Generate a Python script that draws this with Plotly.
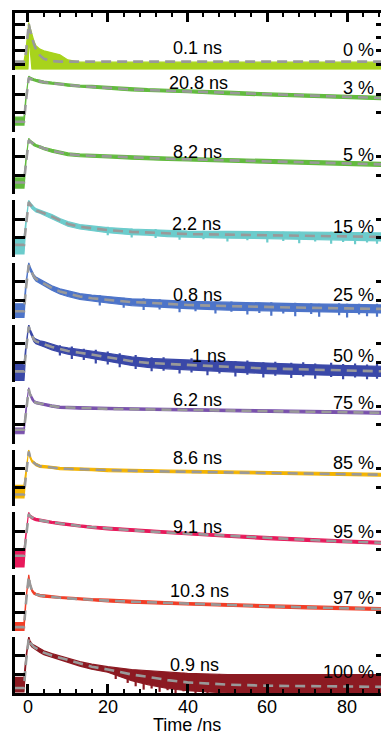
import plotly.graph_objects as go

# Shared time grid (ns) for every decay panel
t_ns = [-3.3, -1.0, -0.5, 0.0, 0.2, 0.5, 1, 1.5, 2, 3, 4, 6, 8, 10, 13, 16,
        20, 26, 30, 35, 40, 50, 60, 70, 80, 88.6]

time_ticks = [0, 20, 40, 60, 80]
time_tick_labels = ["0", "20", "40", "60", "80"]

fractions = ["0 %", "3 %", "5 %", "15 %", "25 %", "50 %", "75 %", "85 %", "95 %", "97 %", "100 %"]
lifetimes = ["0.1 ns", "20.8 ns", "8.2 ns", "2.2 ns", "0.8 ns", "1 ns", "6.2 ns", "8.6 ns",
             "9.1 ns", "10.3 ns", "0.9 ns"]
colors = ["#a8d31c", "#62bb3e", "#62bb3e", "#6ccccc", "#4d74c9", "#3a48a8", "#7a52ad",
          "#f4b400", "#e8195b", "#f23e27", "#8c1a22"]

# Normalised intensity: fitted curve, measured trace (centre) and noise half-width
fit_p00 = [0.14, 0.14, 0.30, 0.70, 0.81, 0.70, 0.56, 0.45, 0.36, 0.25, 0.19, 0.15, 0.14, 0.14, 0.14, 0.14,
           0.14, 0.14, 0.14, 0.14, 0.14, 0.14, 0.14, 0.14, 0.14, 0.14]
data_p00 = [0.07, 0.07, 0.175, 0.39, 0.615, 0.575, 0.31, 0.25, 0.21, 0.18, 0.165, 0.15, 0.13, 0.085, 0.065, 0.065,
            0.065, 0.065, 0.065, 0.065, 0.065, 0.065, 0.065, 0.065, 0.065, 0.065]
noise_p00 = [0.07, 0.07, 0.175, 0.39, 0.215, 0.175, 0.31, 0.25, 0.21, 0.18, 0.165, 0.15, 0.13, 0.085, 0.065, 0.065,
             0.065, 0.065, 0.065, 0.065, 0.065, 0.065, 0.065, 0.065, 0.065, 0.065]

fit_p03 = [0.18, 0.18, 0.55, 0.90, 0.96, 0.94, 0.93, 0.92, 0.91, 0.89, 0.88, 0.86, 0.85, 0.83, 0.81, 0.80,
           0.78, 0.75, 0.74, 0.73, 0.72, 0.69, 0.66, 0.64, 0.62, 0.60]
data_p03 = [0.19, 0.19, 0.60, 0.92, 0.97, 0.95, 0.93, 0.92, 0.91, 0.89, 0.88, 0.86, 0.85, 0.83, 0.81, 0.80,
            0.78, 0.75, 0.74, 0.73, 0.72, 0.69, 0.66, 0.64, 0.62, 0.60]
noise_p03 = [0.07, 0.07, 0.03, 0.02, 0.02, 0.02, 0.02, 0.02, 0.02, 0.02, 0.02, 0.02, 0.02, 0.02, 0.02, 0.025,
             0.025, 0.025, 0.025, 0.025, 0.025, 0.03, 0.03, 0.03, 0.03, 0.03]

fit_p05 = [0.21, 0.21, 0.55, 0.90, 0.96, 0.94, 0.91, 0.88, 0.86, 0.84, 0.81, 0.77, 0.74, 0.71, 0.69, 0.68,
           0.67, 0.65, 0.64, 0.63, 0.62, 0.60, 0.58, 0.56, 0.545, 0.53]
data_p05 = [0.20, 0.20, 0.60, 0.92, 0.97, 0.94, 0.91, 0.88, 0.86, 0.84, 0.81, 0.77, 0.74, 0.71, 0.69, 0.68,
            0.67, 0.65, 0.64, 0.63, 0.62, 0.60, 0.58, 0.56, 0.545, 0.53]
noise_p05 = [0.09, 0.09, 0.03, 0.02, 0.02, 0.02, 0.02, 0.02, 0.02, 0.02, 0.02, 0.025, 0.025, 0.025, 0.025, 0.025,
             0.025, 0.03, 0.03, 0.03, 0.03, 0.03, 0.035, 0.035, 0.035, 0.035]

fit_p15 = [0.21, 0.21, 0.55, 0.90, 0.97, 0.93, 0.88, 0.85, 0.82, 0.80, 0.77, 0.71, 0.64, 0.58, 0.53, 0.50,
           0.47, 0.44, 0.43, 0.41, 0.40, 0.39, 0.38, 0.37, 0.36, 0.35]
data_p15 = [0.19, 0.19, 0.60, 0.92, 0.97, 0.93, 0.88, 0.85, 0.82, 0.80, 0.77, 0.71, 0.64, 0.58, 0.53, 0.50,
            0.47, 0.44, 0.43, 0.41, 0.40, 0.39, 0.38, 0.37, 0.36, 0.35]
noise_p15 = [0.14, 0.14, 0.04, 0.03, 0.03, 0.03, 0.03, 0.03, 0.03, 0.03, 0.03, 0.035, 0.035, 0.04, 0.04, 0.045,
             0.045, 0.05, 0.05, 0.055, 0.055, 0.06, 0.06, 0.065, 0.065, 0.07]

fit_p25 = [0.14, 0.14, 0.55, 0.90, 0.96, 0.90, 0.82, 0.75, 0.71, 0.67, 0.63, 0.55, 0.49, 0.45, 0.40, 0.37,
           0.34, 0.30, 0.29, 0.27, 0.25, 0.23, 0.21, 0.20, 0.19, 0.18]
data_p25 = [0.15, 0.15, 0.60, 0.92, 0.97, 0.90, 0.82, 0.75, 0.71, 0.67, 0.63, 0.55, 0.49, 0.45, 0.40, 0.37,
            0.34, 0.30, 0.29, 0.27, 0.25, 0.23, 0.21, 0.20, 0.19, 0.18]
noise_p25 = [0.12, 0.12, 0.04, 0.03, 0.03, 0.03, 0.03, 0.03, 0.035, 0.035, 0.04, 0.04, 0.045, 0.05, 0.05, 0.055,
             0.055, 0.06, 0.06, 0.065, 0.065, 0.07, 0.07, 0.07, 0.07, 0.07]

fit_p50 = [0.18, 0.18, 0.55, 0.90, 0.97, 0.90, 0.82, 0.74, 0.71, 0.68, 0.66, 0.61, 0.57, 0.54, 0.51, 0.47,
           0.43, 0.36, 0.33, 0.31, 0.29, 0.26, 0.23, 0.21, 0.19, 0.18]
data_p50 = [0.16, 0.16, 0.60, 0.92, 0.98, 0.90, 0.82, 0.74, 0.71, 0.68, 0.66, 0.61, 0.57, 0.54, 0.51, 0.47,
            0.43, 0.36, 0.33, 0.31, 0.29, 0.26, 0.23, 0.21, 0.19, 0.18]
noise_p50 = [0.14, 0.14, 0.04, 0.03, 0.03, 0.03, 0.035, 0.035, 0.04, 0.04, 0.045, 0.05, 0.05, 0.055, 0.06, 0.065,
             0.07, 0.075, 0.08, 0.085, 0.09, 0.09, 0.09, 0.09, 0.09, 0.09]

fit_p75 = [0.25, 0.25, 0.55, 0.90, 0.97, 0.88, 0.80, 0.75, 0.73, 0.71, 0.70, 0.67, 0.65, 0.645, 0.635, 0.63,
           0.62, 0.615, 0.61, 0.605, 0.60, 0.59, 0.58, 0.57, 0.56, 0.55]
data_p75 = [0.23, 0.23, 0.60, 0.92, 0.98, 0.88, 0.80, 0.75, 0.73, 0.71, 0.70, 0.67, 0.65, 0.645, 0.635, 0.63,
            0.62, 0.615, 0.61, 0.605, 0.60, 0.59, 0.58, 0.57, 0.56, 0.55]
noise_p75 = [0.05, 0.05, 0.03, 0.02, 0.02, 0.02, 0.02, 0.02, 0.02, 0.02, 0.02, 0.02, 0.02, 0.02, 0.02, 0.02,
             0.025, 0.025, 0.025, 0.025, 0.025, 0.025, 0.025, 0.025, 0.025, 0.025]

fit_p85 = [0.21, 0.21, 0.55, 0.90, 0.97, 0.88, 0.80, 0.77, 0.74, 0.71, 0.70, 0.69, 0.67, 0.665, 0.655, 0.65,
           0.64, 0.63, 0.62, 0.615, 0.61, 0.60, 0.59, 0.58, 0.57, 0.56]
data_p85 = [0.26, 0.26, 0.60, 0.92, 0.98, 0.88, 0.80, 0.77, 0.74, 0.71, 0.70, 0.69, 0.67, 0.665, 0.655, 0.65,
            0.64, 0.63, 0.62, 0.615, 0.61, 0.60, 0.59, 0.58, 0.57, 0.56]
noise_p85 = [0.11, 0.11, 0.03, 0.02, 0.02, 0.02, 0.02, 0.02, 0.02, 0.02, 0.02, 0.02, 0.02, 0.02, 0.02, 0.02,
             0.025, 0.025, 0.025, 0.025, 0.025, 0.025, 0.025, 0.025, 0.025, 0.025]

fit_p95 = [0.23, 0.23, 0.55, 0.90, 0.97, 0.93, 0.90, 0.885, 0.87, 0.855, 0.84, 0.82, 0.80, 0.78, 0.755, 0.735,
           0.71, 0.68, 0.66, 0.64, 0.62, 0.58, 0.54, 0.51, 0.48, 0.46]
data_p95 = [0.18, 0.18, 0.60, 0.92, 0.98, 0.93, 0.90, 0.885, 0.87, 0.855, 0.84, 0.82, 0.80, 0.78, 0.755, 0.735,
            0.71, 0.68, 0.66, 0.64, 0.62, 0.58, 0.54, 0.51, 0.48, 0.46]
noise_p95 = [0.15, 0.15, 0.03, 0.02, 0.02, 0.02, 0.02, 0.02, 0.02, 0.02, 0.02, 0.02, 0.02, 0.02, 0.02, 0.02,
             0.025, 0.025, 0.025, 0.025, 0.025, 0.025, 0.025, 0.025, 0.025, 0.025]

fit_p97 = [0.07, 0.07, 0.50, 0.88, 0.97, 0.83, 0.72, 0.67, 0.65, 0.63, 0.62, 0.605, 0.59, 0.58, 0.565, 0.555,
           0.54, 0.52, 0.51, 0.495, 0.48, 0.46, 0.44, 0.42, 0.40, 0.39]
data_p97 = [0.08, 0.08, 0.55, 0.90, 0.98, 0.83, 0.72, 0.67, 0.65, 0.63, 0.62, 0.605, 0.59, 0.58, 0.565, 0.555,
            0.54, 0.52, 0.51, 0.495, 0.48, 0.46, 0.44, 0.42, 0.40, 0.39]
noise_p97 = [0.07, 0.07, 0.03, 0.02, 0.02, 0.02, 0.02, 0.02, 0.02, 0.02, 0.02, 0.02, 0.02, 0.02, 0.02, 0.02,
             0.025, 0.025, 0.025, 0.025, 0.025, 0.025, 0.025, 0.025, 0.025, 0.025]

fit_p100 = [0.09, 0.09, 0.55, 0.90, 0.98, 0.90, 0.85, 0.82, 0.80, 0.76, 0.72, 0.67, 0.63, 0.59, 0.52, 0.47,
            0.42, 0.33, 0.29, 0.23, 0.19, 0.15, 0.13, 0.12, 0.11, 0.11]
data_p100 = [0.15, 0.15, 0.60, 0.92, 0.98, 0.90, 0.85, 0.82, 0.80, 0.76, 0.72, 0.67, 0.63, 0.59, 0.52, 0.47,
             0.42, 0.32, 0.275, 0.225, 0.195, 0.165, 0.165, 0.165, 0.165, 0.165]
noise_p100 = [0.13, 0.13, 0.05, 0.03, 0.03, 0.03, 0.03, 0.035, 0.035, 0.035, 0.035, 0.035, 0.035, 0.04, 0.04, 0.045,
              0.05, 0.10, 0.125, 0.145, 0.155, 0.165, 0.165, 0.165, 0.165, 0.165]

# Isolated noise spikes in the photon-starved tails: time, lowest and highest count
spike_t_p15 = [20, 26, 32, 38, 44, 50, 55, 60, 64, 68, 72, 76, 79, 82, 85, 87.5]
spike_lo_p15 = [0.38, 0.34, 0.33, 0.30, 0.31, 0.27, 0.29, 0.25, 0.28, 0.24, 0.27, 0.23, 0.26, 0.22, 0.25, 0.23]
spike_hi_p15 = [0.53, 0.50, 0.49, 0.47, 0.46, 0.45, 0.45, 0.45, 0.44, 0.44, 0.43, 0.44, 0.42, 0.43, 0.42, 0.42]

spike_t_p25 = [18, 24, 29, 33, 38, 42, 47, 51, 55, 58, 61, 64, 67, 71, 73, 78, 80, 83, 85, 87.5]
spike_lo_p25 = [0.24, 0.20, 0.16, 0.17, 0.12, 0.14, 0.10, 0.13, 0.08, 0.11, 0.06, 0.10, 0.05, 0.09, 0.04, 0.07,
                0.03, 0.08, 0.05, 0.04]
spike_hi_p25 = [0.42, 0.38, 0.37, 0.35, 0.34, 0.33, 0.31, 0.31, 0.30, 0.29, 0.30, 0.28, 0.29, 0.28, 0.27, 0.28,
                0.27, 0.27, 0.26, 0.27]

spike_t_p50 = [8, 11, 14, 17, 20, 23, 27, 31, 34, 38, 41, 45, 48, 52, 55, 59, 62, 66, 69, 72, 76, 79, 82, 85, 87.5]
spike_lo_p50 = [0.46, 0.40, 0.38, 0.32, 0.30, 0.25, 0.22, 0.18, 0.19, 0.14, 0.16, 0.11, 0.14, 0.09, 0.12, 0.07,
                0.10, 0.06, 0.09, 0.05, 0.08, 0.04, 0.07, 0.04, 0.05]
spike_hi_p50 = [0.64, 0.62, 0.58, 0.56, 0.53, 0.50, 0.47, 0.43, 0.43, 0.40, 0.41, 0.37, 0.39, 0.36, 0.37, 0.34,
                0.35, 0.33, 0.34, 0.32, 0.33, 0.31, 0.32, 0.30, 0.31]

spike_t_p100 = [22, 25, 27, 29, 31, 33, 35, 37, 39, 42, 45, 48]
spike_lo_p100 = [0.25, 0.18, 0.12, 0.06, 0.08, 0.02, 0.05, 0.0, 0.03, 0.0, 0.0, 0.0]
spike_hi_p100 = [0.42, 0.42, 0.41, 0.40, 0.39, 0.38, 0.37, 0.36, 0.36, 0.35, 0.34, 0.34]

fits = [fit_p00, fit_p03, fit_p05, fit_p15, fit_p25, fit_p50, fit_p75, fit_p85, fit_p95, fit_p97, fit_p100]
traces = [data_p00, data_p03, data_p05, data_p15, data_p25, data_p50, data_p75, data_p85, data_p95, data_p97, data_p100]
noises = [noise_p00, noise_p03, noise_p05, noise_p15, noise_p25, noise_p50, noise_p75, noise_p85, noise_p95,
          noise_p97, noise_p100]
spikes = {3: (spike_t_p15, spike_lo_p15, spike_hi_p15),
          4: (spike_t_p25, spike_lo_p25, spike_hi_p25),
          5: (spike_t_p50, spike_lo_p50, spike_hi_p50),
          10: (spike_t_p100, spike_lo_p100, spike_hi_p100)}

# ---- layout geometry (pixels) ----
W, H = 381, 733
LEFT = 15
TOP, BOT = 13, 693
PITCH, PANEL_H = 62.4, 56.5
X_RANGE = [-3.25, 88.5]
FONT = "Arial, Liberation Sans, sans-serif"

# label placement: ns label x (data units) and vertical fraction within each panel
ns_label_x = [42.6, 42.8, 42.6, 42.3, 42.6, 45.5, 42.6, 42.6, 42.6, 43.0, 41.8]
ns_label_y = [0.38, 0.865, 0.75, 0.58, 0.43, 0.45, 0.78, 0.855, 0.74, 0.71, 0.50]
pct_label_y = [0.345, 0.78, 0.70, 0.53, 0.43, 0.45, 0.72, 0.77, 0.65, 0.585, 0.38]
tick_fracs_first = [0.095, 0.33, 0.565, 0.80]
tick_fracs = [0.005, 0.335, 0.665, 0.995]

n = len(fits)
fig = go.Figure()
layout = {}
annotations = []
plot_w = W - LEFT
plot_h = BOT - TOP


def py(px):
    """pixel row -> paper y"""
    return (BOT - px) / plot_h


for k in range(n):
    yname = "y" if k == 0 else f"y{k + 1}"
    ykey = "yaxis" if k == 0 else f"yaxis{k + 1}"
    top_px = TOP + k * PITCH
    lo_dom = max(0.0, py(top_px + PANEL_H))
    hi_dom = min(1.0, py(top_px))
    ticks = tick_fracs_first if k == 0 else tick_fracs

    upper = [c + s for c, s in zip(traces[k], noises[k])]
    lower = [c - s for c, s in zip(traces[k], noises[k])]
    fig.add_trace(go.Scatter(
        x=t_ns + t_ns[::-1], y=upper + lower[::-1], fill="toself", fillcolor=colors[k],
        line=dict(color=colors[k], width=1.2), mode="lines", xaxis="x", yaxis=yname,
        hoverinfo="skip", showlegend=False))

    if k in spikes:
        st, slo, shi = spikes[k]
        sx, sy = [], []
        for t, a, b in zip(st, slo, shi):
            sx += [t, t, None]
            sy += [a, b, None]
        fig.add_trace(go.Scatter(x=sx, y=sy, mode="lines", line=dict(color=colors[k], width=2.2),
                                 xaxis="x", yaxis=yname, hoverinfo="skip", showlegend=False))

    fig.add_trace(go.Scatter(
        x=t_ns, y=fits[k], mode="lines", line=dict(color="#999999", width=2.6, dash="10px,6px"),
        xaxis="x", yaxis=yname, hoverinfo="skip", showlegend=False))

    layout[ykey] = dict(domain=[lo_dom, hi_dom], range=[0, 1], anchor="x", showgrid=False,
                        zeroline=False, showline=True, linecolor="black", linewidth=3,
                        ticks="inside", tickvals=ticks, ticklen=10, tickwidth=3, tickcolor="black",
                        showticklabels=False, fixedrange=True)

    # mirrored short ticks on the right edge
    rk = n + k + 1
    fig.add_trace(go.Scatter(x=[], y=[], xaxis="x", yaxis=f"y{rk}", showlegend=False))
    layout[f"yaxis{rk}"] = dict(overlaying=yname, side="right", anchor="x", range=[0, 1],
                                showgrid=False, zeroline=False, showline=False, ticks="inside",
                                tickvals=ticks, ticklen=5, tickwidth=2.5, tickcolor="black",
                                showticklabels=False, fixedrange=True)

    annotations.append(dict(text=lifetimes[k], x=ns_label_x[k], xref="x", y=ns_label_y[k],
                            yref=f"{yname} domain", xanchor="center", yanchor="middle",
                            showarrow=False, font=dict(size=18, color="black", family=FONT)))
    annotations.append(dict(text=fractions[k], x=87.2, xref="x", y=pct_label_y[k],
                            yref=f"{yname} domain", xanchor="right", yanchor="middle",
                            showarrow=False, font=dict(size=18, color="black", family=FONT)))

# top frame axis
fig.add_trace(go.Scatter(x=[], y=[], xaxis="x2", yaxis="y", showlegend=False))

minor_ticks = [v for v in range(0, 89, 4) if v % 20 != 0]
axis_common = dict(range=X_RANGE, showgrid=False, zeroline=False, showline=True, linecolor="black",
                   linewidth=3, ticks="inside", tickvals=time_ticks, ticklen=9, tickwidth=2.5,
                   tickcolor="black", showticklabels=False, fixedrange=True,
                   minor=dict(tickvals=minor_ticks, ticks="inside", ticklen=4, tickwidth=2,
                              tickcolor="black"))
layout["xaxis"] = dict(domain=[0, 1], anchor=f"y{n}", **axis_common)
layout["xaxis2"] = dict(overlaying="x", anchor="y", side="top", **axis_common)

# time tick labels under the bottom panel
for v, lab in zip(time_ticks, time_tick_labels):
    annotations.append(dict(text=lab, x=v, xref="x", y=py(707), yref="paper", xanchor="center",
                            yanchor="middle", showarrow=False, borderpad=0,
                            font=dict(size=18, color="black", family=FONT)))

annotations.append(dict(text="Time /ns", x=(187 - LEFT) / plot_w, xref="paper", y=py(725),
                        yref="paper", xanchor="center", yanchor="middle", showarrow=False,
                        borderpad=0, font=dict(size=18, color="black", family=FONT)))

fig.update_layout(width=W, height=H, margin=dict(l=LEFT, r=0, t=TOP, b=H - BOT),
                  paper_bgcolor="white", plot_bgcolor="white", showlegend=False,
                  annotations=annotations, **layout)

fig.write_html("out.html", config={"displayModeBar": False})
